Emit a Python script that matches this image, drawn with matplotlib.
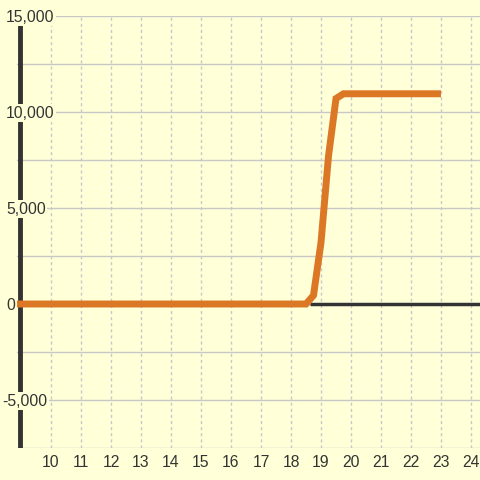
import matplotlib
matplotlib.use("Agg")
import matplotlib.pyplot as plt
from matplotlib.ticker import MultipleLocator
from matplotlib.transforms import offset_copy

BG = "#ffffd8"
LINE = "#dc7726"
DARK = "#333333"
GRID = "#c8c8c8"
FS = 11.3

hours = [8.867, 18.5, 18.75, 19.0, 19.25, 19.5, 19.75, 20.0, 21.0, 22.0, 23.0]
values = [0, 0, 450, 3200, 7700, 10700, 10950, 10950, 10950, 10950, 10950]

x_ticks = list(range(10, 25))
y_major = [-5000, 0, 5000, 10000, 15000]

fig = plt.figure(figsize=(4.8, 4.8), dpi=100, facecolor=BG)
ax = fig.add_axes([17 / 480, 32 / 480, 463 / 480, 432 / 480])
ax.set_facecolor(BG)
ax.set_xlim(8.867, 24.3)
ax.set_ylim(-7500, 15000)

for s in ax.spines.values():
    s.set_visible(False)

ax.set_xticks(x_ticks)
ax.set_yticks(y_major)
ax.yaxis.set_minor_locator(MultipleLocator(2500))

ax.grid(axis="y", which="both", color=GRID, lw=1, ls="-")
ax.grid(axis="x", which="major", color=GRID, lw=1, ls=(0, (2.2, 2.2)))
ax.set_axisbelow(True)

ax.tick_params(axis="both", which="both", length=0, labelsize=FS, labelcolor=DARK)
ax.tick_params(axis="x", pad=5)
ax.tick_params(axis="y", labelleft=False)
for lbl in ax.get_xticklabels():
    lbl.set_fontfamily("Liberation Sans")

# y labels drawn over the axis bar, left aligned, digits centred on the tick
ytrans = offset_copy(ax.get_yaxis_transform(), fig=fig, y=-FS * 0.716 / 2, units="points")
for v in y_major:
    xa = (6 - 17) / 463 if v >= 0 else (2 - 17) / 463
    ax.text(xa, v, f"{v:,}", transform=ytrans, ha="left", va="baseline",
            fontsize=FS, color=DARK, family="Liberation Sans", clip_on=False, zorder=5,
            bbox=dict(facecolor=BG, edgecolor="none", pad=1))

# left axis bar and zero line
ax.plot([8.983, 8.983], [-7500, 14600], color=DARK, lw=3.5, solid_capstyle="butt", zorder=3)
ax.plot([18.63, 24.3], [0, 0], color=DARK, lw=2.5, solid_capstyle="butt", zorder=3)

ax.plot(hours, values, color=LINE, lw=5, solid_joinstyle="miter", solid_capstyle="butt", zorder=4)

fig.savefig("out.png", dpi=100, facecolor=BG)
